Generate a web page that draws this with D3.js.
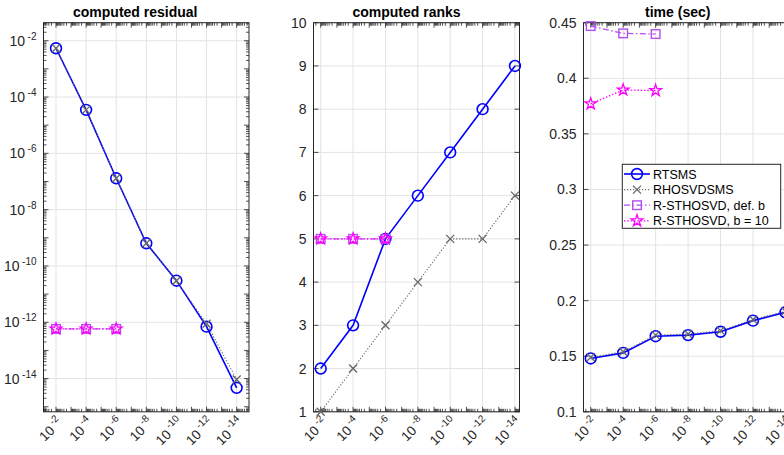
<!DOCTYPE html>
<html><head><meta charset="utf-8">
<script src="https://cdn.jsdelivr.net/npm/d3@7"></script>
<style>
body{margin:0;background:#fff;}
svg{display:block;font-family:"Liberation Sans",Arial,Helvetica,sans-serif;}
</style></head>
<body><svg id="c" width="784" height="455"></svg>
<script>
// ---- data ----
const tolerances = [1e-2, 1e-4, 1e-6, 1e-8, 1e-10, 1e-12, 1e-14];
const xTickExps = ["-2", "-4", "-6", "-8", "-10", "-12", "-14"];
const seriesNames = ["RTSMS", "RHOSVDSMS", "R-STHOSVD, def. b", "R-STHOSVD, b = 10"];

const residualRTSMS = [5.4e-3, 3.5e-5, 1.3e-7, 6.4e-10, 3.0e-11, 7.0e-13, 4.7e-15];
const residualRHOSVD = [5.4e-3, 3.5e-5, 1.3e-7, 6.4e-10, 3.0e-11, 8.8e-13, 9.3e-15];
const residualSTdef = [5.8e-13, 5.8e-13, 5.8e-13];
const residualST10 = [5.8e-13, 5.8e-13, 5.8e-13];

const ranksRTSMS = [2, 3, 5, 6, 7, 8, 9];
const ranksRHOSVD = [1, 2, 3, 4, 5, 5, 6];
const ranksSTdef = [5, 5, 5];
const ranksST10 = [5, 5, 5];

const timeRTSMS = [0.148, 0.153, 0.168, 0.169, 0.172, 0.182, 0.1895];
const timeRHOSVD = [0.149, 0.154, 0.169, 0.170, 0.173, 0.183, 0.1905];
const timeSTdef = [0.447, 0.4404, 0.4398];
const timeST10 = [0.377, 0.3895, 0.389];

const ranksTicks = [1,2,3,4,5,6,7,8,9,10];
const timeTicks = [0.1,0.15,0.2,0.25,0.3,0.35,0.4,0.45];
const timeTickLabels = ["0.1","0.15","0.2","0.25","0.3","0.35","0.4","0.45"];
const residualTickExps = ["-2","-4","-6","-8","-10","-12","-14"];

// ---- styles ----
const C_BLUE = "#0000ff", C_GRAY = "#666666", C_PURP = "#b44ef0", C_MAG = "#ff00ff";
const TXT = "#262626";
const svg = d3.select("#c");

function drawPanel(cfg) {
  const g = svg.append("g");
  const {x, y, L, R, T, B} = cfg;
  const gx = cfg.xTicks, gy = cfg.yTicks;
  g.selectAll(null).data(gx).enter().append("line")
    .attr("x1", d => x(d)).attr("x2", d => x(d)).attr("y1", T).attr("y2", B)
    .attr("stroke", "#e3e3e3").attr("stroke-width", 1);
  g.selectAll(null).data(gy).enter().append("line")
    .attr("y1", d => y(d)).attr("y2", d => y(d)).attr("x1", L).attr("x2", R)
    .attr("stroke", "#e3e3e3").attr("stroke-width", 1);
  g.append("rect").attr("x", L).attr("y", T).attr("width", R - L).attr("height", B - T)
    .attr("fill", "none").attr("stroke", TXT).attr("stroke-width", 1);
  const [d0, d1] = x.domain();
  const lo = Math.min(d0, d1), hi = Math.max(d0, d1);
  const xt = [];
  for (let n = Math.floor(Math.log10(lo)); n <= Math.ceil(Math.log10(hi)); n++)
    for (let k = 1; k <= 9; k++) { const v = k * Math.pow(10, n); if (v >= lo && v <= hi) xt.push({v, major: k === 1}); }
  xt.forEach(t => {
    const len = t.major ? 5 : 3, px = x(t.v);
    g.append("line").attr("x1", px).attr("x2", px).attr("y1", B).attr("y2", B - len).attr("stroke", TXT).attr("stroke-width", 0.8);
    g.append("line").attr("x1", px).attr("x2", px).attr("y1", T).attr("y2", T + len).attr("stroke", TXT).attr("stroke-width", 0.8);
  });
  if (cfg.yLog) {
    const [e0, e1] = y.domain();
    const ylo = Math.min(e0, e1), yhi = Math.max(e0, e1);
    for (let n = Math.floor(Math.log10(ylo)); n <= Math.ceil(Math.log10(yhi)); n++)
      for (let k = 1; k <= 9; k++) {
        const v = k * Math.pow(10, n); if (v < ylo || v > yhi) continue;
        const len = k === 1 ? 5 : 3, py = y(v);
        g.append("line").attr("x1", L).attr("x2", L + len).attr("y1", py).attr("y2", py).attr("stroke", TXT).attr("stroke-width", 0.8);
        g.append("line").attr("x1", R).attr("x2", R - len).attr("y1", py).attr("y2", py).attr("stroke", TXT).attr("stroke-width", 0.8);
      }
  } else {
    gy.forEach(v => {
      const py = y(v);
      g.append("line").attr("x1", L).attr("x2", L + 5).attr("y1", py).attr("y2", py).attr("stroke", TXT).attr("stroke-width", 0.8);
      g.append("line").attr("x1", R).attr("x2", R - 5).attr("y1", py).attr("y2", py).attr("stroke", TXT).attr("stroke-width", 0.8);
    });
  }
  gy.forEach((v, i) => {
    const t = g.append("text").attr("x", L - 7).attr("y", y(v) + 5).attr("text-anchor", "end")
      .attr("fill", TXT).attr("font-size", 14);
    if (cfg.yLog) {
      t.append("tspan").text("10");
      t.append("tspan").attr("dx", 2.5).attr("dy", -6).attr("font-size", 10).text(cfg.yLabels[i]);
    } else t.text(cfg.yLabels[i]);
  });
  gx.forEach((v, i) => {
    const px = x(v) + 4, py = B + 8;
    const t = g.append("text").attr("transform", `translate(${px},${py}) rotate(-45)`)
      .attr("text-anchor", "end").attr("fill", TXT).attr("font-size", 13.5);
    t.append("tspan").attr("dy", 5).text("10");
    t.append("tspan").attr("dx", 2.5).attr("dy", -6).attr("font-size", 10).text(xTickExps[i]);
  });
  g.append("text").attr("x", (L + R) / 2 + cfg.titleDx).attr("y", 17).attr("text-anchor", "middle")
    .attr("font-weight", "bold").attr("font-size", 14).attr("fill", "#000").text(cfg.title);

  const clipId = "clip" + cfg.id;
  svg.append("clipPath").attr("id", clipId).append("rect").attr("x", L - 8).attr("y", T - 8).attr("width", R - L + 16).attr("height", B - T + 16);
  const sg = svg.append("g").attr("clip-path", `url(#${clipId})`);
  const line = d3.line().x(d => x(d[0])).y(d => y(d[1]));
  cfg.series.forEach(s => {
    const pts = s.vals.map((v, i) => [tolerances[i], v]);
    sg.append("path").attr("d", line(pts)).attr("fill", "none").attr("stroke", s.color)
      .attr("stroke-width", s.width).attr("stroke-dasharray", s.dash || null);
    pts.forEach(p => drawMarker(sg, s.marker, x(p[0]), y(p[1]), s.color));
  });
}

function drawMarker(g, type, cx, cy, color) {
  if (type === "circle") {
    g.append("circle").attr("cx", cx).attr("cy", cy).attr("r", 5.4).attr("fill", "none").attr("stroke", color).attr("stroke-width", 1.6);
  } else if (type === "x") {
    const s = 4;
    g.append("path").attr("d", `M${cx - s},${cy - s}L${cx + s},${cy + s}M${cx - s},${cy + s}L${cx + s},${cy - s}`)
      .attr("stroke", color).attr("stroke-width", 1.3).attr("fill", "none");
  } else if (type === "square") {
    g.append("rect").attr("x", cx - 4.3).attr("y", cy - 4.3).attr("width", 8.6).attr("height", 8.6)
      .attr("fill", "none").attr("stroke", color).attr("stroke-width", 1.4);
  } else if (type === "star") {
    g.append("path").attr("d", d3.symbol().type(d3.symbolStar).size(42)()).attr("transform", `translate(${cx},${cy})`)
      .attr("fill", "none").attr("stroke", color).attr("stroke-width", 1.3);
  }
}

function seriesFor(a, b, c, d) {
  return [
    {vals: a, color: C_BLUE, width: 1.6, marker: "circle"},
    {vals: b, color: C_GRAY, width: 1.1, dash: "1.2,1.8", marker: "x"},
    {vals: c, color: C_PURP, width: 1.3, dash: "6,2.5,1.5,2.5", marker: "square"},
    {vals: d, color: C_MAG, width: 1.3, dash: "1.5,1.8", marker: "star"}
  ];
}

const T = 22.7, B = 411.8;
{
  const L = 43.5, R = 249;
  drawPanel({
    id: 1, L, R, T, B, title: "computed residual", titleDx: -11,
    x: d3.scaleLog().domain([Math.pow(10, -1.17), Math.pow(10, -14.82)]).range([L, R]),
    y: d3.scaleLog().domain([Math.pow(10, -15.18), Math.pow(10, -1.36)]).range([B, T]),
    yLog: true, xTicks: tolerances, yTicks: tolerances, yLabels: residualTickExps,
    series: seriesFor(residualRTSMS, residualRHOSVD, residualSTdef, residualST10)
  });
}
{
  const L = 313.5, R = 519.5;
  drawPanel({
    id: 2, L, R, T, B, title: "computed ranks", titleDx: -10,
    x: d3.scaleLog().domain([Math.pow(10, -1.555), Math.pow(10, -14.28)]).range([L, R]),
    y: d3.scaleLinear().domain([1, 10]).range([B, T]),
    yLog: false, xTicks: tolerances, yTicks: ranksTicks, yLabels: ranksTicks.map(String),
    series: seriesFor(ranksRTSMS, ranksRHOSVD, ranksSTdef, ranksST10)
  });
}
{
  const L = 583.5, R = 790;
  drawPanel({
    id: 3, L, R, T, B, title: "time (sec)", titleDx: -9,
    x: d3.scaleLog().domain([Math.pow(10, -1.555), Math.pow(10, -14.28)]).range([L, R]),
    y: d3.scaleLinear().domain([0.1, 0.45]).range([B, T]),
    yLog: false, xTicks: tolerances, yTicks: timeTicks, yLabels: timeTickLabels,
    series: seriesFor(timeRTSMS, timeRHOSVD, timeSTdef, timeST10)
  });
  const lg = svg.append("g");
  lg.append("rect").attr("x", 622.3).attr("y", 164.3).attr("width", 158.4).attr("height", 64)
    .attr("fill", "#fff").attr("stroke", TXT).attr("stroke-width", 1);
  const st = seriesFor([], [], [], []);
  seriesNames.forEach((name, i) => {
    const cy = 174 + i * 15.6, s = st[i];
    lg.append("line").attr("x1", 624).attr("x2", 650).attr("y1", cy).attr("y2", cy)
      .attr("stroke", s.color).attr("stroke-width", s.width).attr("stroke-dasharray", s.dash || null);
    drawMarker(lg, s.marker, 637, cy, s.color);
    lg.append("text").attr("x", 653).attr("y", cy + 4.5).attr("font-size", 12.5).attr("fill", "#000").text(name);
  });
}
</script></body></html>
